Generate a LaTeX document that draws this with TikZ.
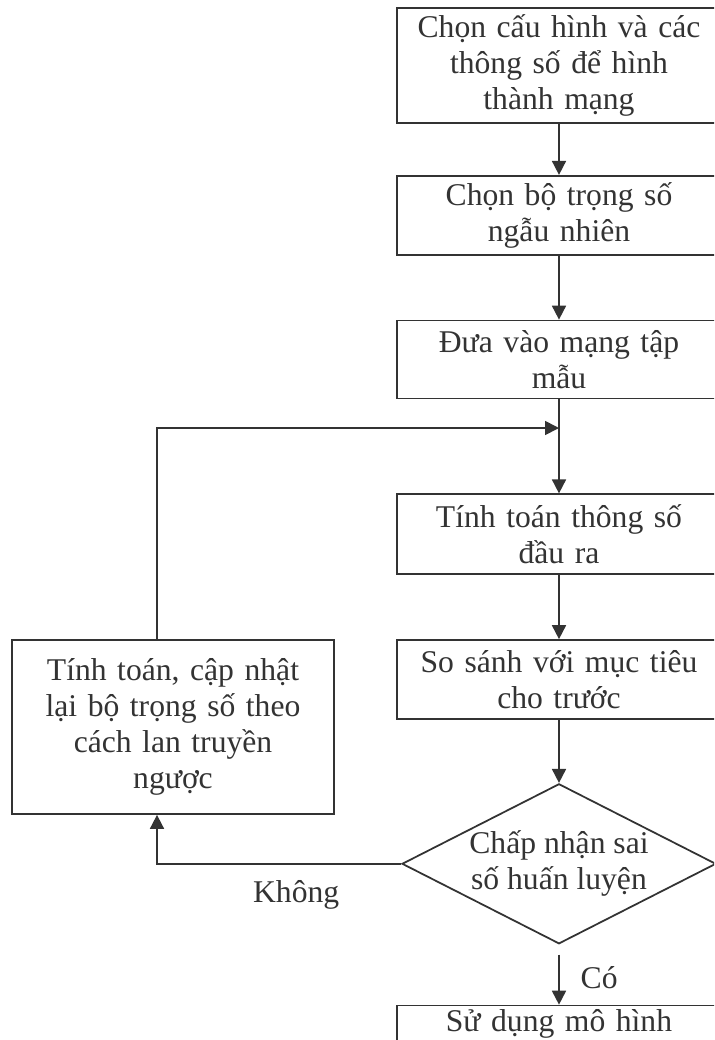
\documentclass[tikz,border=0pt]{standalone}
\usepackage{fontspec}
\setmainfont{Liberation Serif}
\usetikzlibrary{arrows.meta,positioning,shapes.geometric}
\definecolor{inkgray}{HTML}{333333}

\begin{document}
\begin{tikzpicture}[
    stepbox/.style={draw=inkgray, line width=1pt, text=inkgray, text width=6.2cm, align=center, minimum width=6.48cm, inner sep=2pt, font=\fontsize{18}{20.5}\selectfont},
    decision/.style={diamond, draw=inkgray, line width=1pt, text=inkgray, align=center, aspect=1.96, inner sep=0pt, minimum width=6.28cm, minimum height=3.2cm, font=\fontsize{18}{20.5}\selectfont},
    flow/.style={-{Triangle[length=0.28cm,width=0.28cm]}, line width=1pt, draw=inkgray},
    tag/.style={text=inkgray, font=\fontsize{18}{20.5}\selectfont}
  ]
    \useasboundingbox (0,0) rectangle (14.28,-20.8);
    \fill[white] (0,0) rectangle (14.28,-20.8);
    \clip (0,0) rectangle (14.28,-20.8);

    % Cot chinh
    \node[stepbox, minimum height=2.3cm] (config) at (11.18,-1.31) {Chọn cấu hình và các\\thông số để hình\\thành mạng};
    \node[stepbox, minimum height=1.58cm, below=1.02cm of config] (initw) {Chọn bộ trọng số\\ngẫu nhiên};
    \node[stepbox, minimum height=1.56cm, below=1.28cm of initw] (input) {Đưa vào mạng tập\\mẫu};
    \node[stepbox, minimum height=1.6cm, below=1.88cm of input] (output) {Tính toán thông số\\đầu ra};
    \node[stepbox, minimum height=1.58cm, below=1.28cm of output] (compare) {So sánh với mục tiêu\\cho trước};
    \node[decision, below=1.26cm of compare] (decide) {Chấp nhận sai\\số huấn luyện};
    \node[stepbox, text depth=0.55cm, below=1.2cm of decide] (use) {Sử dụng mô hình};

    % Nhanh phan hoi
    \node[stepbox, text width=6cm, minimum width=6.44cm, minimum height=3.48cm] (update) at (3.46,-14.54) {Tính toán, cập nhật\\lại bộ trọng số theo\\cách lan truyền\\ngược};
    \coordinate (merge) at (input.south |- 0,-8.56);

    % Ket noi
    \draw[flow] (config) -- (initw);
    \draw[flow] (initw) -- (input);
    \draw[flow] (input) -- (output);
    \draw[flow] (output) -- (compare);
    \draw[flow] (compare) -- (decide);
    \draw[flow, shorten <=0.2cm] (decide) -- node[tag, right=0.3cm, yshift=-0.05cm]{Có} (use);
    \draw[flow] (decide.west) -| node[tag, pos=0.215, below=0.2cm]{Không} ([xshift=-0.32cm]update.south);
    \draw[flow] ([xshift=-0.32cm]update.north) |- (merge);
\end{tikzpicture}
\end{document}
